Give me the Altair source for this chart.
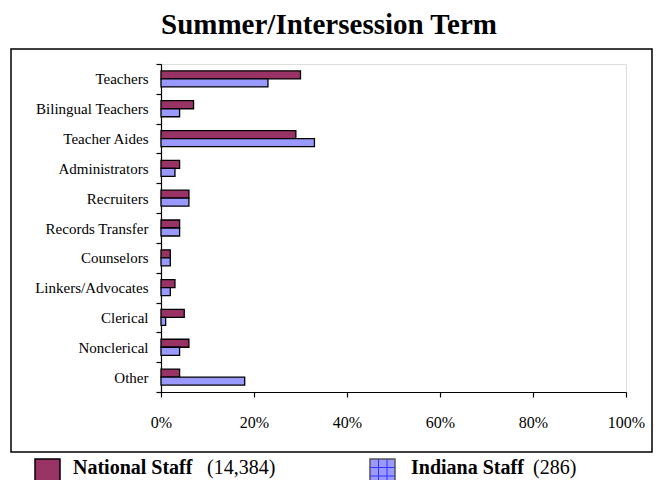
import altair as alt
import pandas as pd

title_text = "Summer/Intersession Term"

categories = [
    "Teachers", "Bilingual Teachers", "Teacher Aides", "Administrators",
    "Recruiters", "Records Transfer", "Counselors", "Linkers/Advocates",
    "Clerical", "Nonclerical", "Other",
]
national = [30, 7, 29, 4, 6, 4, 2, 3, 5, 6, 4]
indiana = [23, 4, 33, 3, 6, 4, 2, 2, 1, 4, 18]

series = ["National Staff", "Indiana Staff"]
series_counts = ["(14,384)", "(286)"]
colors = ["#993366", "#9999FF"]

x_ticks = [0, 20, 40, 60, 80, 100]

rows = []
for c, n, i in zip(categories, national, indiana):
    rows.append({"category": c, "series": series[0], "value": n})
    rows.append({"category": c, "series": series[1], "value": i})
df = pd.DataFrame(rows)
one = pd.DataFrame({"k": [0]})

FONT = "Liberation Serif"

bars = alt.Chart(df).mark_bar(stroke="black", strokeWidth=1.3).encode(
    x=alt.X("value:Q",
            scale=alt.Scale(domain=[0, 100], nice=False, zero=True),
            axis=alt.Axis(values=x_ticks, labelExpr="datum.value + '%'",
                          title=None, grid=False, tickSize=5, labelPadding=17,
                          labelFlush=False, labelOverlap=False,
                          labelFont=FONT, labelFontSize=16, labelColor="black",
                          domainColor="black", tickColor="black",
                          domainWidth=1.2, tickWidth=1.2)),
    y=alt.Y("category:N", sort=categories,
            scale=alt.Scale(paddingInner=0, paddingOuter=0),
            axis=alt.Axis(title=None, tickBand="extent", tickSize=5,
                          labelPadding=8, labelFont=FONT, labelFontSize=15,
                          labelColor="black", domainColor="black",
                          tickColor="black", domainWidth=1.2, tickWidth=1.2)),
    yOffset=alt.YOffset("series:N", sort=series,
                        scale=alt.Scale(paddingOuter=0.86, paddingInner=0)),
    color=alt.Color("series:N", sort=series,
                    scale=alt.Scale(domain=series, range=colors), legend=None),
)

outer_box = alt.Chart(one).mark_rect(fillOpacity=0, stroke="black",
                                     strokeWidth=1.5).encode(
    x=alt.value(-150), x2=alt.value(491), y=alt.value(-15), y2=alt.value(388))

title = alt.Chart(one).mark_text(font=FONT, fontSize=29, fontWeight="bold",
                                 align="center", baseline="alphabetic",
                                 color="black").encode(
    x=alt.value(168), y=alt.value(-30), text=alt.value(title_text))

layers = [outer_box, bars, title]

# legend
leg_sq_x = [-126, 209]
leg_txt_x = [-88, 250]
for k in range(2):
    sq = alt.Chart(one).mark_rect(fill=colors[k],
                                  stroke="black" if k == 0 else "#555555",
                                  strokeWidth=1.5).encode(
        x=alt.value(leg_sq_x[k]), x2=alt.value(leg_sq_x[k] + 25),
        y=alt.value(395), y2=alt.value(421))
    layers.append(sq)
    name = alt.Chart(one).mark_text(font=FONT, fontSize=20, fontWeight="bold",
                                    align="left", baseline="alphabetic",
                                    color="black").encode(
        x=alt.value(leg_txt_x[k]), y=alt.value(410), text=alt.value(series[k]))
    layers.append(name)
    width_name = 125 if k == 0 else 113
    cnt = alt.Chart(one).mark_text(font=FONT, fontSize=20, align="left",
                                   baseline="alphabetic", color="black").encode(
        x=alt.value(leg_txt_x[k] + width_name + 9), y=alt.value(410),
        text=alt.value(series_counts[k]))
    layers.append(cnt)

# grid pattern on the Indiana legend square
for off in [8.5, 17]:
    layers.append(alt.Chart(one).mark_rule(color="#3333FF", strokeWidth=1).encode(
        x=alt.value(leg_sq_x[1] + off), y=alt.value(395), y2=alt.value(421)))
    layers.append(alt.Chart(one).mark_rule(color="#3333FF", strokeWidth=1).encode(
        y=alt.value(395 + off), x=alt.value(leg_sq_x[1]), x2=alt.value(leg_sq_x[1] + 25)))

chart = alt.layer(*layers).properties(
    width=465, height=328,
    autosize=alt.AutoSizeParams(type="none"),
    padding={"left": 153, "top": 56, "right": 28, "bottom": 88},
).configure_view(stroke="#999999", strokeWidth=2).configure(background="white")

chart.save("out.html", embed_options={"renderer": "svg", "actions": False})
